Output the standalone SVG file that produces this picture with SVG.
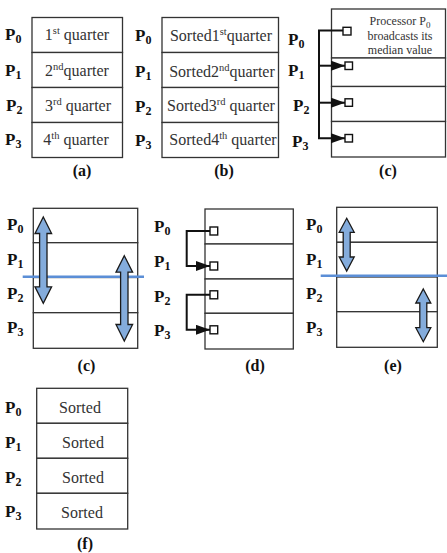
<svg xmlns="http://www.w3.org/2000/svg" width="447" height="553" viewBox="0 0 447 553">
<style>
.cell{fill:#fff;stroke:#333;stroke-width:1.3}
.p{font-family:"Liberation Serif","Times New Roman",serif;font-weight:bold;font-size:17px;fill:#111}
.sub{font-size:12px}
.t{font-family:"Liberation Serif","Times New Roman",serif;font-size:16px;fill:#333;text-anchor:middle}
.sup{font-size:10.5px}
.note{font-family:"Liberation Serif","Times New Roman",serif;font-size:12px;fill:#333;text-anchor:middle}
.lab{font-family:"Liberation Serif","Times New Roman",serif;font-weight:bold;font-size:16px;fill:#111;text-anchor:middle}
.sq{fill:#fff;stroke:#111;stroke-width:1.4}
.con{fill:none;stroke:#111;stroke-width:2}
.blue{stroke:#5b8ed6;stroke-width:2.5}
.dbl{fill:#84acdc;stroke:#1a1a1a;stroke-width:1.3;stroke-linejoin:miter}
</style>
<defs>
<marker id="ah" markerUnits="userSpaceOnUse" markerWidth="15" markerHeight="11" refX="14" refY="5" orient="auto">
<path d="M0,0 L14,5 L0,10 z" fill="#111"/>
</marker>
</defs>

<!-- Panel (a) -->
<g id="panel-a">
<rect class="cell" x="32" y="17.5" width="90.5" height="35"/>
<rect class="cell" x="32" y="52.5" width="90.5" height="35"/>
<rect class="cell" x="32" y="87.5" width="90.5" height="35"/>
<rect class="cell" x="32" y="122.5" width="90.5" height="35"/>
<text class="t" x="77" y="40">1<tspan class="sup" dy="-6">st</tspan><tspan dy="6"> quarter</tspan></text>
<text class="t" x="77" y="76">2<tspan class="sup" dy="-6">nd</tspan><tspan dy="6">quarter</tspan></text>
<text class="t" x="78" y="110.5">3<tspan class="sup" dy="-6">rd</tspan><tspan dy="6"> quarter</tspan></text>
<text class="t" x="76" y="144.5">4<tspan class="sup" dy="-6">th</tspan><tspan dy="6"> quarter</tspan></text>
<text class="p" x="5" y="40">P<tspan class="sub" dy="3">0</tspan></text>
<text class="p" x="5" y="76">P<tspan class="sub" dy="3">1</tspan></text>
<text class="p" x="6" y="111">P<tspan class="sub" dy="3">2</tspan></text>
<text class="p" x="5" y="145">P<tspan class="sub" dy="3">3</tspan></text>
<text class="lab" x="82" y="176">(a)</text>
</g>

<!-- Panel (b) -->
<g id="panel-b">
<rect class="cell" x="162" y="17.5" width="116.5" height="35"/>
<rect class="cell" x="162" y="52.5" width="116.5" height="35"/>
<rect class="cell" x="162" y="87.5" width="116.5" height="35"/>
<rect class="cell" x="162" y="122.5" width="116.5" height="35"/>
<text class="t" x="221" y="41">Sorted1<tspan class="sup" dy="-6">st</tspan><tspan dy="6">quarter</tspan></text>
<text class="t" x="222" y="76.5">Sorted2<tspan class="sup" dy="-6">nd</tspan><tspan dy="6">quarter</tspan></text>
<text class="t" x="221" y="111">Sorted3<tspan class="sup" dy="-6">rd</tspan><tspan dy="6"> quarter</tspan></text>
<text class="t" x="223" y="145">Sorted4<tspan class="sup" dy="-6">th</tspan><tspan dy="6"> quarter</tspan></text>
<text class="p" x="135" y="41">P<tspan class="sub" dy="3">0</tspan></text>
<text class="p" x="135" y="76.5">P<tspan class="sub" dy="3">1</tspan></text>
<text class="p" x="135" y="111.5">P<tspan class="sub" dy="3">2</tspan></text>
<text class="p" x="135" y="146">P<tspan class="sub" dy="3">3</tspan></text>
<text class="lab" x="224" y="176">(b)</text>
</g>

<!-- Panel (c) top -->
<g id="panel-c1">
<rect class="cell" x="331.5" y="9" width="114" height="49"/>
<rect class="cell" x="331.5" y="58" width="114" height="28.5"/>
<rect class="cell" x="331.5" y="86.5" width="114" height="35"/>
<rect class="cell" x="331.5" y="121.5" width="114" height="35.5"/>
<rect class="sq" x="343" y="27.3" width="8" height="7.7"/>
<rect class="sq" x="345" y="62" width="7.5" height="7.5"/>
<rect class="sq" x="345" y="98.8" width="7.5" height="7.5"/>
<rect class="sq" x="345" y="134.5" width="7.5" height="7.5"/>
<text class="note" x="400" y="25">Processor P<tspan font-size="9" dy="3">0</tspan></text>
<text class="note" x="400" y="39.5">broadcasts its</text>
<text class="note" x="400" y="53.5">median value</text>
<text class="p" x="288" y="45">P<tspan class="sub" dy="3">0</tspan></text>
<text class="p" x="288" y="76">P<tspan class="sub" dy="3">1</tspan></text>
<text class="p" x="293" y="111">P<tspan class="sub" dy="3">2</tspan></text>
<text class="p" x="292" y="147">P<tspan class="sub" dy="3">3</tspan></text>
<text class="lab" x="388" y="176">(c)</text>
</g>

<!-- Panel (c) middle -->
<g id="panel-c2">
<rect class="cell" x="33.3" y="208.3" width="104.4" height="34.4"/>
<rect class="cell" x="33.3" y="242.7" width="104.4" height="34.8"/>
<rect class="cell" x="33.3" y="277.5" width="104.4" height="35.2"/>
<rect class="cell" x="33.3" y="312.7" width="104.4" height="35.6"/>
<text class="p" x="7" y="230">P<tspan class="sub" dy="3">0</tspan></text>
<text class="p" x="7" y="265">P<tspan class="sub" dy="3">1</tspan></text>
<text class="p" x="7" y="298.5">P<tspan class="sub" dy="3">2</tspan></text>
<text class="p" x="7" y="333">P<tspan class="sub" dy="3">3</tspan></text>
<line class="blue" x1="22.7" y1="276.7" x2="144" y2="276.7"/>
<text class="lab" x="86.5" y="371">(c)</text>
</g>

<!-- Panel (d) -->
<g id="panel-d">
<rect class="cell" x="205" y="209" width="88.3" height="35"/>
<rect class="cell" x="205" y="244" width="88.3" height="35"/>
<rect class="cell" x="205" y="279" width="88.3" height="34.3"/>
<rect class="cell" x="205" y="313.3" width="88.3" height="35.7"/>
<rect class="sq" x="210" y="227" width="7.7" height="8"/>
<rect class="sq" x="210" y="262" width="7.7" height="8"/>
<rect class="sq" x="210" y="290.8" width="7.7" height="8"/>
<rect class="sq" x="210" y="325.8" width="7.7" height="8"/>
<text class="p" x="154" y="232">P<tspan class="sub" dy="3">0</tspan></text>
<text class="p" x="154" y="267">P<tspan class="sub" dy="3">1</tspan></text>
<text class="p" x="154" y="302">P<tspan class="sub" dy="3">2</tspan></text>
<text class="p" x="154" y="335.5">P<tspan class="sub" dy="3">3</tspan></text>
<text class="lab" x="255" y="371">(d)</text>
</g>

<!-- Panel (e) -->
<g id="panel-e">
<rect class="cell" x="336.7" y="207.3" width="100.6" height="35"/>
<rect class="cell" x="336.7" y="242.3" width="100.6" height="34.7"/>
<rect class="cell" x="336.7" y="277" width="100.6" height="34.7"/>
<rect class="cell" x="336.7" y="311.7" width="100.6" height="35.6"/>
<text class="p" x="306" y="230">P<tspan class="sub" dy="3">0</tspan></text>
<text class="p" x="306" y="265">P<tspan class="sub" dy="3">1</tspan></text>
<text class="p" x="306" y="298.5">P<tspan class="sub" dy="3">2</tspan></text>
<text class="p" x="306" y="333">P<tspan class="sub" dy="3">3</tspan></text>
<line class="blue" x1="320.7" y1="275.7" x2="447" y2="275.7"/>
<text class="lab" x="393" y="371">(e)</text>
</g>

<!-- Panel (f) -->
<g id="panel-f">
<rect class="cell" x="36.7" y="388.3" width="91" height="35"/>
<rect class="cell" x="36.7" y="423.3" width="91" height="35"/>
<rect class="cell" x="36.7" y="458.3" width="91" height="35"/>
<rect class="cell" x="36.7" y="493.3" width="91" height="35.7"/>
<text class="t" x="80" y="413" font-size="18">Sorted</text>
<text class="t" x="83" y="448" font-size="18">Sorted</text>
<text class="t" x="83" y="483" font-size="18">Sorted</text>
<text class="t" x="82" y="518" font-size="18">Sorted</text>
<text class="p" x="5" y="413">P<tspan class="sub" dy="3">0</tspan></text>
<text class="p" x="5" y="448">P<tspan class="sub" dy="3">1</tspan></text>
<text class="p" x="5" y="483">P<tspan class="sub" dy="3">2</tspan></text>
<text class="p" x="5" y="517">P<tspan class="sub" dy="3">3</tspan></text>
<text class="lab" x="85" y="549">(f)</text>
</g>

<!-- Connectors -->
<g id="connectors">
<path class="con" d="M343,30.5 H319 V138.3 H345" marker-end="url(#ah)"/>
<path class="con" d="M319,65.7 H345" marker-end="url(#ah)"/>
<path class="con" d="M319,102.7 H345" marker-end="url(#ah)"/>
<path class="con" d="M210,231 H186.7 V266 H210" marker-end="url(#ah)"/>
<path class="con" d="M210,294.8 H186.7 V329.8 H210" marker-end="url(#ah)"/>
<polygon class="dbl" points="43.3,217 51.6,233.5 47,233.5 47,286.8 51.6,286.8 43.3,303.3 35,286.8 39.6,286.8 39.6,233.5 35,233.5"/>
<polygon class="dbl" points="124.3,255.7 132.6,272.2 128,272.2 128,324.5 132.6,324.5 124.3,341 116,324.5 120.6,324.5 120.6,272.2 116,272.2"/>
<polygon class="dbl" points="346.7,218.3 354.2,232.3 350.2,232.3 350.2,257 354.2,257 346.7,271 339.2,257 343.2,257 343.2,232.3 339.2,232.3"/>
<polygon class="dbl" points="423.3,289 430.8,303 426.8,303 426.8,327.7 430.8,327.7 423.3,341.7 415.8,327.7 419.8,327.7 419.8,303 415.8,303"/>
</g>
</svg>
